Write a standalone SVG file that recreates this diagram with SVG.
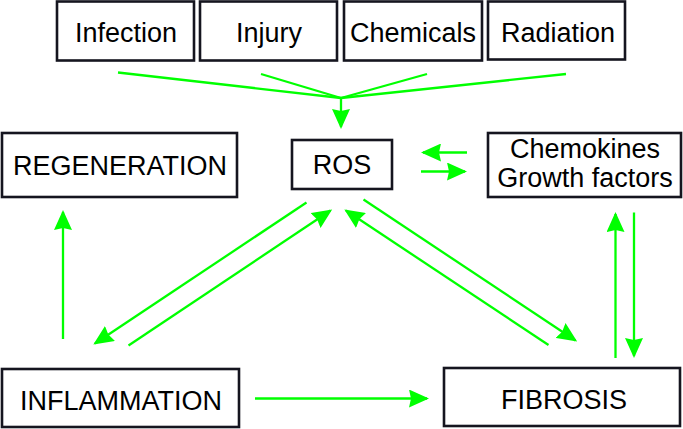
<svg xmlns="http://www.w3.org/2000/svg" width="683" height="429" viewBox="0 0 683 429">
<style>
.box{fill:#ffffff;stroke:#15151f;stroke-width:2.6}
.t{font-family:"Liberation Sans",Arial,sans-serif;font-size:27px;fill:#000;text-anchor:middle}
.c{stroke:#00ff00;stroke-width:2.3;fill:none}
.a{stroke:#00ff00;stroke-width:2.3;fill:none;marker-end:url(#ah)}
</style>
<defs>
<marker id="ah" markerUnits="userSpaceOnUse" markerWidth="22" markerHeight="18" refX="18" refY="9" orient="auto">
<path d="M0,0 L20,9 L0,18 L2,9 z" fill="#00ff00"/>
</marker>
</defs>
<rect width="683" height="429" fill="#ffffff"/>
<g id="infection"><rect class="box" x="57" y="1.5" width="137" height="59"/><text class="t" x="126" y="42">Infection</text></g>
<g id="injury"><rect class="box" x="200" y="1.5" width="137" height="59"/><text class="t" x="269" y="42">Injury</text></g>
<g id="chemicals"><rect class="box" x="344" y="1.5" width="138" height="59"/><text class="t" x="413" y="42">Chemicals</text></g>
<g id="radiation"><rect class="box" x="488" y="1.5" width="137" height="58"/><text class="t" x="558" y="42">Radiation</text></g>
<g id="regeneration"><rect class="box" x="2" y="133" width="235" height="64"/><text class="t" x="120" y="175">REGENERATION</text></g>
<g id="ros"><rect class="box" x="292" y="140" width="100" height="49"/><text class="t" x="342" y="174">ROS</text></g>
<g id="chemokines"><rect class="box" x="488" y="133" width="193" height="64"/><text class="t" x="585" y="158">Chemokines</text><text class="t" x="585" y="187">Growth factors</text></g>
<g id="inflammation"><rect class="box" x="2" y="369" width="237" height="58"/><text class="t" x="121" y="410">INFLAMMATION</text></g>
<g id="fibrosis"><rect class="box" x="444" y="368" width="236" height="58"/><text class="t" x="564" y="409">FIBROSIS</text></g>
<g id="connectors">
<line class="c" x1="118" y1="72.5" x2="341" y2="98"/>
<line class="c" x1="261" y1="74" x2="341" y2="98"/>
<line class="c" x1="427" y1="74" x2="341" y2="98"/>
<line class="c" x1="566" y1="74" x2="341" y2="98"/>
<line class="a" x1="341" y1="98" x2="341" y2="127"/>
<line class="a" x1="467" y1="152.5" x2="423" y2="152.5"/>
<line class="a" x1="421" y1="171.5" x2="465" y2="171.5"/>
<line class="a" x1="63" y1="339" x2="63" y2="212"/>
<line class="a" x1="306.5" y1="202.5" x2="95" y2="343.5"/>
<line class="a" x1="128.5" y1="345.5" x2="330.5" y2="210.5"/>
<line class="a" x1="363.5" y1="199.5" x2="575.5" y2="340.5"/>
<line class="a" x1="548.5" y1="345" x2="346" y2="210.5"/>
<line class="a" x1="255" y1="398.5" x2="427" y2="398.5"/>
<line class="a" x1="615.5" y1="358" x2="615.5" y2="214"/>
<line class="a" x1="634" y1="212.5" x2="634" y2="356"/>
</g>
</svg>
